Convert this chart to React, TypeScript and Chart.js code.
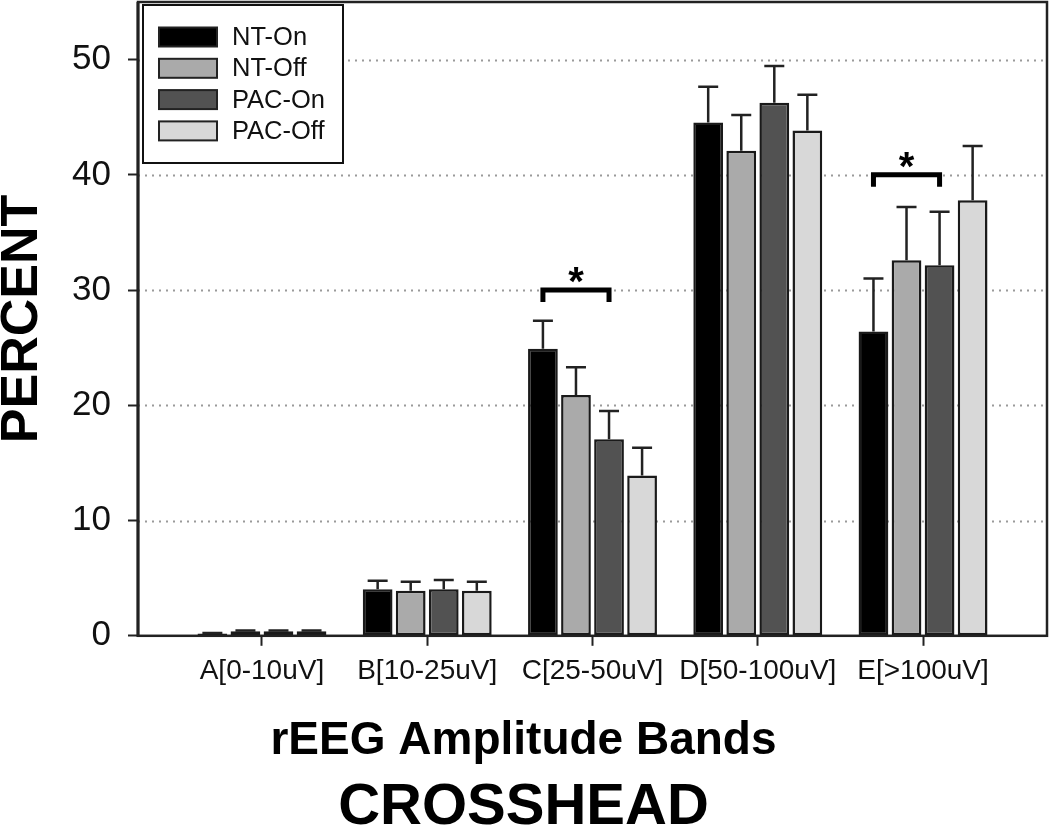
import React, { useEffect, useRef } from "react";
import { Chart, registerables } from "chart.js";

Chart.register(...registerables);

const FONT = "'Liberation Sans', Arial, Helvetica, sans-serif";

const categories = ["A[0-10uV]", "B[10-25uV]", "C[25-50uV]", "D[50-100uV]", "E[>100uV]"];
const seriesLabels = ["NT-On", "NT-Off", "PAC-On", "PAC-Off"];
const seriesColors = ["#000000", "#aaaaaa", "#525252", "#d8d8d8"];

const ntOn = [0.2, 4.05, 24.9, 44.55, 26.4];
const ntOff = [0.4, 3.9, 20.9, 42.1, 32.6];
const pacOn = [0.4, 4.05, 17.05, 46.25, 32.15];
const pacOff = [0.4, 3.9, 13.9, 43.85, 37.8];

const ntOnErr = [0.05, 0.72, 2.43, 3.1, 4.6];
const ntOffErr = [0.05, 0.78, 2.4, 3.1, 4.6];
const pacOnErr = [0.05, 0.8, 2.45, 3.2, 4.65];
const pacOffErr = [0.05, 0.78, 2.42, 3.1, 4.7];

const yTicks = [0, 10, 20, 30, 40, 50];
const gridValues = [10, 20, 30, 40, 50];

// significance brackets: group index, level, from-series, to-series
const sigGroups = [2, 4];
const sigLevels = [30, 40];
const sigFrom = [0, 0];
const sigTo = [2, 2];

const seriesValues = [ntOn, ntOff, pacOn, pacOff];
const seriesErrors = [ntOnErr, ntOffErr, pacOnErr, pacOffErr];

const decorPlugin = {
  id: "decor",
  beforeDatasetsDraw(chart: any) {
    const { ctx, chartArea } = chart;
    const y = chart.scales.y;
    ctx.save();
    ctx.strokeStyle = "#9a9a9a";
    ctx.lineWidth = 2;
    ctx.setLineDash([2, 5]);
    gridValues.forEach((v) => {
      const py = Math.round(y.getPixelForValue(v)) + 0.5;
      ctx.beginPath();
      ctx.moveTo(chartArea.left, py);
      ctx.lineTo(chartArea.right, py);
      ctx.stroke();
    });
    ctx.restore();
  },
  afterDatasetsDraw(chart: any) {
    const { ctx, chartArea } = chart;
    const y = chart.scales.y;
    ctx.save();
    // error bars (upper only)
    ctx.strokeStyle = "#222";
    ctx.lineWidth = 2.5;
    seriesValues.forEach((vals, i) => {
      const meta = chart.getDatasetMeta(i);
      meta.data.forEach((el: any, j: number) => {
        const top = y.getPixelForValue(vals[j]);
        const et = y.getPixelForValue(vals[j] + seriesErrors[i][j]);
        ctx.beginPath();
        ctx.moveTo(el.x, top);
        ctx.lineTo(el.x, et);
        ctx.moveTo(el.x - 10, et);
        ctx.lineTo(el.x + 10, et);
        ctx.stroke();
      });
    });
    // significance brackets
    sigGroups.forEach((g, k) => {
      const x1 = chart.getDatasetMeta(sigFrom[k]).data[g].x;
      const x2 = chart.getDatasetMeta(sigTo[k]).data[g].x;
      const py = y.getPixelForValue(sigLevels[k]);
      ctx.strokeStyle = "#000";
      ctx.lineWidth = 5;
      ctx.lineJoin = "miter";
      ctx.beginPath();
      ctx.moveTo(x1, py + 12);
      ctx.lineTo(x1, py);
      ctx.lineTo(x2, py);
      ctx.lineTo(x2, py + 12);
      ctx.stroke();
      ctx.fillStyle = "#000";
      ctx.font = `bold 40px ${FONT}`;
      ctx.textAlign = "center";
      ctx.textBaseline = "alphabetic";
      ctx.fillText("*", (x1 + x2) / 2, py + 5);
    });
    // frame
    ctx.strokeStyle = "#222";
    ctx.lineWidth = 2.5;
    ctx.strokeRect(chartArea.left, chartArea.top, chartArea.right - chartArea.left, chartArea.bottom - chartArea.top);
    ctx.lineWidth = 3;
    ctx.beginPath();
    ctx.moveTo(chartArea.left, chartArea.top);
    ctx.lineTo(chartArea.left, chartArea.bottom + 1);
    ctx.stroke();
    // legend
    const bx = chartArea.left + 5;
    const by = chartArea.top + 3;
    const bw = 200;
    const bh = 158;
    ctx.fillStyle = "#fff";
    ctx.fillRect(bx, by, bw, bh);
    ctx.strokeStyle = "#111";
    ctx.lineWidth = 2;
    ctx.strokeRect(bx, by, bw, bh);
    chart.data.datasets.forEach((ds: any, i: number) => {
      const cy = by + 32 + i * 31.3;
      ctx.fillStyle = ds.backgroundColor;
      ctx.fillRect(bx + 16, cy - 9.5, 58, 19);
      ctx.strokeStyle = "#222";
      ctx.lineWidth = 2;
      ctx.strokeRect(bx + 16, cy - 9.5, 58, 19);
      ctx.fillStyle = "#111";
      ctx.font = `25.5px ${FONT}`;
      ctx.textAlign = "left";
      ctx.textBaseline = "middle";
      ctx.fillText(ds.label, bx + 89, cy + 1);
    });
    ctx.restore();
  },
};

export default function App() {
  const ref = useRef<HTMLCanvasElement | null>(null);

  useEffect(() => {
    if (!ref.current) return;
    Chart.defaults.font.family = FONT;
    const chart = new Chart(ref.current, {
      type: "bar",
      data: {
        datasets: seriesLabels.map((label, i) => ({
          label,
          data: categories.map((_, j) => ({ x: j, y: seriesValues[i][j] })),
          backgroundColor: seriesColors[i],
          borderColor: "#1a1a1a",
          borderWidth: 2.5,
          borderSkipped: false,
          categoryPercentage: 0.8,
          barPercentage: 0.9,
        })),
      },
      options: {
        animation: false,
        responsive: false,
        layout: { padding: { top: 2, right: 3, left: 0, bottom: 0 } },
        plugins: {
          legend: { display: false },
          tooltip: { enabled: false },
          title: {
            display: true,
            position: "bottom",
            text: "CROSSHEAD",
            color: "#000",
            font: { size: 58, weight: "bold", family: FONT, lineHeight: 0.9 },
            padding: { top: 0, bottom: 0 },
          },
          subtitle: {
            display: true,
            position: "bottom",
            text: "rEEG Amplitude Bands",
            color: "#000",
            font: { size: 46, weight: "bold", family: FONT, lineHeight: 1 },
            padding: { top: 0, bottom: 17 },
          },
        },
        scales: {
          x: {
            type: "linear",
            min: -0.75,
            max: 4.75,
            offset: false,
            afterBuildTicks: (s: any) => {
              s.ticks = categories.map((_, i) => ({ value: i }));
            },
            afterFit: (s: any) => {
              s.height = 83;
              s.paddingLeft = 0;
              s.paddingRight = 0;
            },
            ticks: {
              autoSkip: false,
              maxRotation: 0,
              padding: 9,
              color: "#111",
              font: { size: 28, family: FONT },
              callback: (v: any) => categories[v] ?? "",
            },
            grid: { offset: false, drawOnChartArea: false, drawTicks: true, tickLength: 10, tickWidth: 2, tickColor: "#222" },
            border: { display: false },
          },
          y: {
            min: 0,
            max: 55,
            afterBuildTicks: (s: any) => {
              s.ticks = yTicks.map((v) => ({ value: v }));
            },
            afterFit: (s: any) => {
              s.width = 138;
              s.paddingTop = 0;
              s.paddingBottom = 0;
            },
            ticks: { padding: 17, color: "#111", font: { size: 35, family: FONT } },
            grid: { drawOnChartArea: false, drawTicks: true, tickLength: 10, tickWidth: 2, tickColor: "#222" },
            border: { display: false },
            title: {
              display: true,
              text: "PERCENT",
              color: "#000",
              padding: 0,
              font: { size: 52, weight: "bold", family: FONT, lineHeight: 0.88 },
            },
          },
        },
      } as any,
      plugins: [decorPlugin],
    });
    return () => chart.destroy();
  }, []);

  return (
    <canvas
      ref={ref}
      width={1050}
      height={834}
      style={{ position: "absolute", left: 0, top: 0, display: "block", width: "1050px", height: "834px" }}
    />
  );
}
